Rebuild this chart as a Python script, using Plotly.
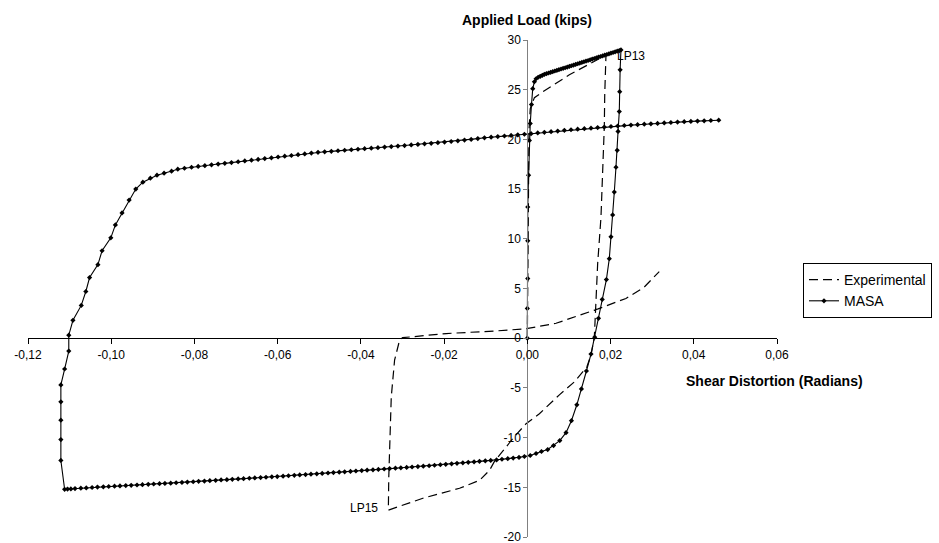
import plotly.graph_objects as go

# ---------------- data ----------------
exp_x = [0.0, 0.0001, 0.0002, 0.0004, 0.0007, 0.0017, 0.0041, 0.0101, 0.0150, 0.0189,
         0.0186, 0.0185, 0.0177, 0.0169, 0.0161, 0.0153, 0.0143, 0.0113, 0.0077, 0.0029,
         -0.0003, -0.0031, -0.0079, -0.0091, -0.0115, -0.0163, -0.0251, -0.0331, -0.0334,
         -0.0333, -0.0327, -0.0319, -0.0307, -0.0300, -0.0195, -0.0075, -0.0003, 0.0069,
         0.0125, 0.0170, 0.0237, 0.0280, 0.0317]
exp_y = [0.0, 8.0, 16.0, 21.0, 23.1, 24.2, 24.9, 26.5, 27.6, 28.5,
         24.5, 21.3, 12.2, 7.5, 0.1, -1.7, -2.9, -4.4, -5.7, -7.6,
         -8.6, -9.9, -12.4, -13.3, -14.3, -15.1, -16.1, -17.2, -17.3,
         -14.0, -5.9, -2.2, -0.2, 0.05, 0.47, 0.73, 0.95, 1.5,
         2.3, 2.95, 4.0, 5.1, 6.7]

masa_x = [
    # initial loading
    0.0, 0.0000, 0.0001, 0.0001, 0.0001, 0.0003, 0.0005, 0.0007, 0.0010, 0.0013, 0.0017, 0.0021,
    0.0026, 0.0031, 0.0036, 0.0041, 0.0046, 0.0051, 0.0056, 0.0061, 0.0066, 0.0071, 0.0076,
    0.0081, 0.0086, 0.0091, 0.0096, 0.0101, 0.0106, 0.0111, 0.0116, 0.0121, 0.0126, 0.0131,
    0.0136, 0.0141, 0.0146, 0.0151, 0.0156, 0.0161, 0.0166, 0.0171, 0.0176, 0.0181, 0.0186,
    0.0191, 0.0196, 0.0201, 0.0206, 0.0211, 0.0216, 0.0221, 0.0225,
    # unloading
    0.0223, 0.0222, 0.0221, 0.0218, 0.0216, 0.0213, 0.0209, 0.0205, 0.0201, 0.0197, 0.0190,
    0.0180, 0.0171, 0.0162, 0.0153, 0.0142, 0.0130, 0.0119, 0.0106, 0.0093, 0.0078, 0.0063,
    0.0049, 0.0034, 0.0021, 0.0007, -0.0007,
    # negative branch
    -0.0020, -0.0034, -0.0047, -0.0061, -0.0074, -0.0088, -0.0101, -0.0115, -0.0128, -0.0142,
    -0.0155, -0.0169, -0.0182, -0.0196, -0.0209, -0.0223, -0.0236, -0.0250, -0.0263, -0.0277,
    -0.0290, -0.0304, -0.0317, -0.0331, -0.0344, -0.0358, -0.0371, -0.0385, -0.0398, -0.0412,
    -0.0425, -0.0439, -0.0452, -0.0466, -0.0479, -0.0493, -0.0506, -0.0520, -0.0533, -0.0547,
    -0.0560, -0.0574, -0.0587, -0.0601, -0.0614, -0.0628, -0.0641, -0.0655, -0.0668, -0.0682,
    -0.0695, -0.0709, -0.0722, -0.0736, -0.0749, -0.0763, -0.0776, -0.0790, -0.0803, -0.0817,
    -0.0830, -0.0844, -0.0857, -0.0871, -0.0884, -0.0898, -0.0911, -0.0925, -0.0938, -0.0952,
    -0.0965, -0.0979, -0.0992, -0.1006, -0.1019, -0.1033, -0.1046, -0.1060, -0.1073, -0.1087,
    -0.1097, -0.1105, -0.1112,
    # reloading
    -0.1121, -0.1121, -0.1121, -0.1121, -0.1121, -0.1112, -0.1102, -0.1102, -0.1092, -0.1072,
    -0.1061, -0.1052, -0.1032, -0.1022, -0.1001, -0.0990, -0.0974, -0.0957, -0.0941, -0.0924,
    -0.0906, -0.0890, -0.0873, -0.0855, -0.0840, -0.0824, -0.0807,
    -0.0791, -0.0775, -0.0759, -0.0743, -0.0727, -0.0711, -0.0695, -0.0679, -0.0663, -0.0647,
    -0.0631, -0.0615, -0.0599, -0.0583, -0.0567, -0.0551, -0.0535, -0.0519, -0.0503, -0.0487,
    -0.0471, -0.0455, -0.0439, -0.0423, -0.0407, -0.0391, -0.0375, -0.0359, -0.0343, -0.0327,
    -0.0311, -0.0295, -0.0279, -0.0263, -0.0247, -0.0231, -0.0215, -0.0199, -0.0183, -0.0167,
    -0.0151, -0.0135, -0.0119, -0.0103, -0.0087, -0.0071, -0.0055, -0.0039, -0.0023, -0.0007,
    0.0009, 0.0025, 0.0041, 0.0057, 0.0073, 0.0089, 0.0105, 0.0121, 0.0137, 0.0153,
    0.0169, 0.0185, 0.0201, 0.0217, 0.0233, 0.0249, 0.0265, 0.0281, 0.0297, 0.0313,
    0.0329, 0.0345, 0.0361, 0.0377, 0.0393, 0.0409, 0.0425, 0.0441, 0.0460]
masa_y = [
    0.0, 3.0, 6.0, 9.8, 13.2, 16.4, 19.9, 21.6, 23.5, 25.1, 25.8, 26.1,
    26.25, 26.35, 26.45, 26.55, 26.61, 26.68, 26.75, 26.81, 26.88, 26.95, 27.01,
    27.08, 27.15, 27.21, 27.28, 27.34, 27.41, 27.48, 27.54, 27.61, 27.68, 27.74,
    27.81, 27.88, 27.94, 28.01, 28.08, 28.14, 28.21, 28.28, 28.34, 28.41, 28.48,
    28.54, 28.61, 28.68, 28.74, 28.81, 28.88, 28.94, 29.0,
    27.0, 24.8, 22.8, 20.8, 18.9, 17.2, 14.7, 12.4, 10.2, 8.0, 5.9,
    3.9, 2.0, 0.1, -1.6, -3.3, -5.1, -6.7, -8.3, -9.5, -10.3, -10.8,
    -11.2, -11.4, -11.6, -11.8, -11.9,
    -11.99, -12.06, -12.12, -12.18, -12.25, -12.30, -12.34, -12.39, -12.44, -12.49,
    -12.54, -12.59, -12.64, -12.69, -12.73, -12.78, -12.83, -12.87, -12.91, -12.96,
    -13.00, -13.04, -13.08, -13.12, -13.16, -13.20, -13.24, -13.28, -13.32, -13.36,
    -13.40, -13.44, -13.48, -13.52, -13.56, -13.60, -13.64, -13.68, -13.72, -13.76,
    -13.80, -13.84, -13.88, -13.92, -13.95, -13.99, -14.02, -14.06, -14.09, -14.13,
    -14.16, -14.20, -14.23, -14.26, -14.30, -14.33, -14.37, -14.40, -14.44, -14.47,
    -14.51, -14.54, -14.58, -14.61, -14.64, -14.67, -14.70, -14.74, -14.77, -14.80,
    -14.83, -14.86, -14.89, -14.92, -14.95, -14.98, -15.02, -15.06, -15.09, -15.13,
    -15.16, -15.18, -15.20,
    -12.3, -10.2, -8.25, -6.4, -4.7, -3.1, -1.3, 0.3, 1.8, 3.3,
    4.7, 6.1, 7.4, 8.8, 10.1, 11.4, 12.6, 13.9, 15.0, 15.7,
    16.1, 16.4, 16.6, 16.8, 17.0, 17.1, 17.2,
    17.28, 17.36, 17.44, 17.52, 17.59, 17.67, 17.75, 17.83, 17.91, 17.99,
    18.07, 18.15, 18.23, 18.31, 18.38, 18.46, 18.54, 18.62, 18.70, 18.75,
    18.80, 18.86, 18.91, 18.96, 19.01, 19.07, 19.12, 19.17, 19.23, 19.28,
    19.33, 19.38, 19.44, 19.49, 19.55, 19.61, 19.67, 19.73, 19.79, 19.86,
    19.93, 20.00, 20.08, 20.16, 20.22, 20.28, 20.34, 20.40, 20.46, 20.52,
    20.58, 20.65, 20.71, 20.78, 20.84, 20.91, 20.97, 21.03, 21.08, 21.13,
    21.19, 21.24, 21.30, 21.35, 21.40, 21.44, 21.48, 21.53, 21.57, 21.61,
    21.66, 21.70, 21.74, 21.78, 21.81, 21.84, 21.87, 21.90, 21.93]

x_ticks = [-0.12, -0.10, -0.08, -0.06, -0.04, -0.02, 0.0, 0.02, 0.04, 0.06]
x_tick_text = ["-0,12", "-0,10", "-0,08", "-0,06", "-0,04", "-0,02", "0,00", "0,02", "0,04", "0,06"]
y_ticks = [-20, -15, -10, -5, 0, 5, 10, 15, 20, 25, 30]
y_tick_text = ["-20", "-15", "-10", "-5", "0", "5", "10", "15", "20", "25", "30"]

x_title = "Shear Distortion (Radians)"
y_title = "Applied Load (kips)"
point_labels = [("LP13", 0.0211, 28.4, "left"), ("LP15", -0.0355, -17.1, "right")]

# ---------------- figure ----------------
FONT = "Liberation Sans, Arial, sans-serif"
X_RANGE = [-0.12, 0.06]
Y_RANGE = [-20, 30]

fig = go.Figure()
fig.add_trace(go.Scatter(
    x=exp_x, y=exp_y, mode="lines", name="Experimental",
    line=dict(color="black", width=1.2, dash="9px,5px"),
))
fig.add_trace(go.Scatter(
    x=masa_x, y=masa_y, mode="lines+markers", name="MASA",
    line=dict(color="black", width=1.1),
    marker=dict(symbol="diamond", size=4, color="black"),
))

x_pos = (0 - Y_RANGE[0]) / (Y_RANGE[1] - Y_RANGE[0])
y_pos = (0 - X_RANGE[0]) / (X_RANGE[1] - X_RANGE[0])

annotations = [
    dict(x=y_pos, y=(537 - 20) / 497, xref="paper", yref="paper",
         text="<b>" + y_title + "</b>", showarrow=False,
         font=dict(family=FONT, size=14, color="black"), xanchor="center", yanchor="middle"),
    dict(x=0.0593, y=-4.3, xref="x", yref="y", text="<b>" + x_title + "</b>", showarrow=False,
         font=dict(family=FONT, size=14, color="black"), xanchor="center", yanchor="middle"),
]
for txt, lx, ly, anc in point_labels:
    annotations.append(dict(x=lx, y=ly, xref="x", yref="y", text=txt, showarrow=False,
                            font=dict(family=FONT, size=12, color="black"),
                            xanchor=anc, yanchor="middle"))

fig.update_layout(
    template="none",
    width=939, height=543,
    margin=dict(l=28, r=162, t=40, b=6, autoexpand=False),
    paper_bgcolor="white", plot_bgcolor="white",
    font=dict(family=FONT, size=12, color="black"),
    showlegend=True,
    legend=dict(x=(803 - 28) / 749, y=(537 - 263) / 497, xanchor="left", yanchor="top",
                bordercolor="black", borderwidth=1, bgcolor="white",
                font=dict(family=FONT, size=14, color="black"),
                tracegroupgap=0, itemwidth=30),
    xaxis=dict(range=X_RANGE, anchor="free", position=x_pos, showgrid=False, zeroline=False,
               showline=True, linecolor="black", linewidth=1,
               ticks="outside", ticklen=5, tickcolor="black", tickwidth=1,
               tickvals=x_ticks, ticktext=x_tick_text, ticklabeloverflow="allow",
               tickfont=dict(family=FONT, size=12, color="black"), automargin=False),
    yaxis=dict(range=Y_RANGE, anchor="free", position=y_pos, showgrid=False, zeroline=False,
               showline=True, linecolor="#808080", linewidth=1,
               ticks="outside", ticklen=4, tickcolor="#808080", tickwidth=1,
               tickvals=y_ticks, ticktext=y_tick_text, ticklabeloverflow="allow",
               tickfont=dict(family=FONT, size=12, color="black"), automargin=False),
    annotations=annotations,
)

fig.write_html("out.html")
